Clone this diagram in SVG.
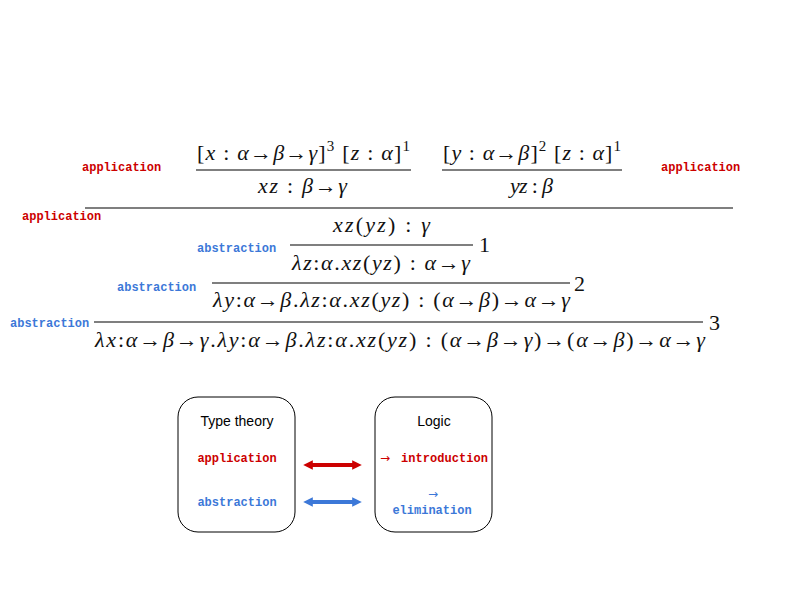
<svg xmlns="http://www.w3.org/2000/svg" width="800" height="600" viewBox="0 0 800 600">
<style>
.m{font-family:"Liberation Serif","Times New Roman",serif;font-size:22px;fill:#111}
.i{font-style:italic}
.sup{font-size:15px}
.lbl{font-family:"Liberation Mono","DejaVu Sans Mono",monospace;font-size:12px;font-weight:bold}
.arw{font-family:"DejaVu Sans",sans-serif;font-size:12px;font-weight:normal}
.red{fill:#cc0000}
.blue{fill:#3c78d8}
.rule{stroke:#555;stroke-width:1.5}
.box{fill:#fff;stroke:#000;stroke-width:1}
.hd{font-family:"Liberation Sans",Arial,sans-serif;font-size:14px;fill:#000}
</style>
<defs>
<marker id="ar" viewBox="0 0 10 10" refX="5" refY="5" markerWidth="2.4" markerHeight="2.4" orient="auto-start-reverse"><path d="M0,0 L10,5 L0,10 z" fill="#cc0000"/></marker>
<marker id="ab" viewBox="0 0 10 10" refX="5" refY="5" markerWidth="2.4" markerHeight="2.4" orient="auto-start-reverse"><path d="M0,0 L10,5 L0,10 z" fill="#3c78d8"/></marker>
</defs>
<rect width="800" height="600" fill="#fff"/>

<g id="proof">
<text class="m" x="197" y="160" textLength="213" lengthAdjust="spacing">[<tspan class="i">x</tspan> : <tspan class="i">α</tspan>→<tspan class="i">β</tspan>→<tspan class="i">γ</tspan>]<tspan class="sup" dy="-9">3</tspan><tspan dy="9">  [</tspan><tspan class="i">z</tspan> : <tspan class="i">α</tspan>]<tspan class="sup" dy="-9">1</tspan></text>
<line class="rule" x1="196" y1="170" x2="411" y2="170"/>
<text class="m" x="258" y="193" textLength="89" lengthAdjust="spacing"><tspan class="i">xz</tspan> : <tspan class="i">β</tspan>→<tspan class="i">γ</tspan></text>

<text class="m" x="443" y="160" textLength="178" lengthAdjust="spacing">[<tspan class="i">y</tspan> : <tspan class="i">α</tspan>→<tspan class="i">β</tspan>]<tspan class="sup" dy="-9">2</tspan><tspan dy="9">  [</tspan><tspan class="i">z</tspan> : <tspan class="i">α</tspan>]<tspan class="sup" dy="-9">1</tspan></text>
<line class="rule" x1="442" y1="170" x2="622" y2="170"/>
<text class="m" x="510" y="193" textLength="43" lengthAdjust="spacing"><tspan class="i">yz</tspan> : <tspan class="i">β</tspan></text>

<line class="rule" x1="85" y1="208" x2="733" y2="208"/>

<text class="m" x="333" y="232" textLength="97" lengthAdjust="spacing"><tspan class="i">xz</tspan>(<tspan class="i">yz</tspan>) : <tspan class="i">γ</tspan></text>
<line class="rule" x1="290" y1="245" x2="473" y2="245"/>
<text class="m" x="479" y="252">1</text>
<text class="m" x="292" y="270" textLength="178" lengthAdjust="spacing"><tspan class="i">λz</tspan>:<tspan class="i">α</tspan>.<tspan class="i">xz</tspan>(<tspan class="i">yz</tspan>) : <tspan class="i">α</tspan>→<tspan class="i">γ</tspan></text>

<line class="rule" x1="212" y1="283" x2="570" y2="283"/>
<text class="m" x="574" y="291">2</text>
<text class="m" x="213" y="307" textLength="357" lengthAdjust="spacing"><tspan class="i">λy</tspan>:<tspan class="i">α</tspan>→<tspan class="i">β</tspan>.<tspan class="i">λz</tspan>:<tspan class="i">α</tspan>.<tspan class="i">xz</tspan>(<tspan class="i">yz</tspan>) : (<tspan class="i">α</tspan>→<tspan class="i">β</tspan>)→<tspan class="i">α</tspan>→<tspan class="i">γ</tspan></text>

<line class="rule" x1="94" y1="322" x2="703" y2="322"/>
<text class="m" x="709" y="330">3</text>
<text class="m" x="95" y="347" textLength="610" lengthAdjust="spacing"><tspan class="i">λx</tspan>:<tspan class="i">α</tspan>→<tspan class="i">β</tspan>→<tspan class="i">γ</tspan>.<tspan class="i">λy</tspan>:<tspan class="i">α</tspan>→<tspan class="i">β</tspan>.<tspan class="i">λz</tspan>:<tspan class="i">α</tspan>.<tspan class="i">xz</tspan>(<tspan class="i">yz</tspan>) : (<tspan class="i">α</tspan>→<tspan class="i">β</tspan>→<tspan class="i">γ</tspan>)→(<tspan class="i">α</tspan>→<tspan class="i">β</tspan>)→<tspan class="i">α</tspan>→<tspan class="i">γ</tspan></text>
</g>

<g id="labels">
<text class="lbl red" x="82" y="171">application</text>
<text class="lbl red" x="661" y="171">application</text>
<text class="lbl red" x="22" y="220">application</text>
<text class="lbl blue" x="197" y="252">abstraction</text>
<text class="lbl blue" x="117" y="291">abstraction</text>
<text class="lbl blue" x="10" y="327">abstraction</text>
</g>

<g id="type-theory">
<rect class="box" x="178" y="397" width="117" height="135" rx="20"/>
<text class="hd" x="237" y="426" text-anchor="middle">Type theory</text>
<text class="lbl red" x="237" y="462" text-anchor="middle">application</text>
<text class="lbl blue" x="237" y="506" text-anchor="middle">abstraction</text>
</g>

<g id="logic">
<rect class="box" x="375" y="397" width="117" height="135" rx="20"/>
<text class="hd" x="434" y="426" text-anchor="middle">Logic</text>
<text class="arw red" x="380" y="462">→</text>
<text class="lbl red" x="401" y="462" textLength="87" lengthAdjust="spacing">introduction</text>
<text class="arw blue" x="433" y="498" text-anchor="middle">→</text>
<text class="lbl blue" x="432" y="514" text-anchor="middle">elimination</text>
</g>

<g id="connectors">
<line x1="308" y1="465" x2="357" y2="465" stroke="#cc0000" stroke-width="4" marker-start="url(#ar)" marker-end="url(#ar)"/>
<line x1="308" y1="502" x2="357" y2="502" stroke="#3c78d8" stroke-width="4" marker-start="url(#ab)" marker-end="url(#ab)"/>
</g>
</svg>
